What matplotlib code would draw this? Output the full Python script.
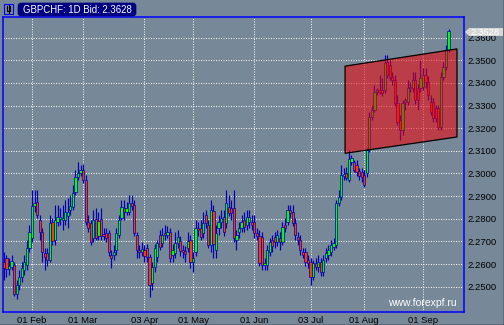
import numpy as np
import matplotlib
import matplotlib.pyplot as plt
from matplotlib.patches import FancyBboxPatch, Polygon, Rectangle
from matplotlib.lines import Line2D
from matplotlib.transforms import IdentityTransform

plt.rcParams['font.family'] = ['Liberation Sans', 'DejaVu Sans']

# daily GBPCHF bid candles, mid Jan .. mid Sep
opens = [
    2.2609, 2.2626, 2.2578, 2.2587, 2.2596, 2.2467, 2.2507, 2.2543, 2.2573, 2.2596,
    2.2671, 2.2715, 2.2856, 2.2874, 2.2794, 2.2741, 2.2648, 2.2648, 2.2618, 2.2785,
    2.2706, 2.2785, 2.2799, 2.2794, 2.2794, 2.2812, 2.2838, 2.2852, 2.2918, 2.2984,
    2.3002, 2.3015, 2.2971, 2.2785, 2.2781, 2.2715, 2.2799, 2.2724, 2.2799, 2.2732,
    2.2737, 2.2737, 2.2640, 2.2640, 2.2662, 2.2728, 2.2803, 2.2847, 2.2830, 2.2830,
    2.2869, 2.2861, 2.2728, 2.2662, 2.2653, 2.2662, 2.2671, 2.2631, 2.2516, 2.2587,
    2.2631, 2.2728, 2.2693, 2.2737, 2.2728, 2.2741, 2.2640, 2.2648, 2.2693, 2.2702,
    2.2662, 2.2657, 2.2671, 2.2706, 2.2609, 2.2653, 2.2759, 2.2759, 2.2737, 2.2816,
    2.2772, 2.2684, 2.2834, 2.2662, 2.2759, 2.2785, 2.2807, 2.2781, 2.2852, 2.2847,
    2.2847, 2.2706, 2.2741, 2.2759, 2.2794, 2.2772, 2.2785, 2.2785, 2.2785, 2.2737,
    2.2724, 2.2719, 2.2596, 2.2596, 2.2653, 2.2706, 2.2719, 2.2697, 2.2715, 2.2697,
    2.2772, 2.2785, 2.2838, 2.2830, 2.2781, 2.2719, 2.2706, 2.2653, 2.2653, 2.2618,
    2.2609, 2.2543, 2.2604, 2.2587, 2.2609, 2.2565, 2.2626, 2.2640, 2.2653, 2.2675,
    2.2684, 2.2869, 2.2896, 2.2989, 2.3002, 2.2971, 2.3050, 2.3050, 2.3037, 2.3011,
    2.3006, 2.2993, 2.3002, 2.3103, 2.3249, 2.3280, 2.3360, 2.3368, 2.3368, 2.3368,
    2.3492, 2.3479, 2.3426, 2.3413, 2.3311, 2.3236, 2.3192, 2.3315, 2.3315, 2.3377,
    2.3377, 2.3413, 2.3377, 2.3377, 2.3382, 2.3435, 2.3404, 2.3315, 2.3315, 2.3289,
    2.3289, 2.3205, 2.3426, 2.3470, 2.3545,
]
closes = [
    2.2582, 2.2578, 2.2591, 2.2613, 2.2467, 2.2507, 2.2543, 2.2582, 2.2609, 2.2671,
    2.2741, 2.2856, 2.2869, 2.2816, 2.2741, 2.2653, 2.2631, 2.2618, 2.2781, 2.2702,
    2.2794, 2.2807, 2.2807, 2.2803, 2.2830, 2.2830, 2.2856, 2.2913, 2.2984, 2.3002,
    2.3015, 2.2971, 2.2785, 2.2759, 2.2697, 2.2794, 2.2715, 2.2790, 2.2724, 2.2724,
    2.2715, 2.2653, 2.2626, 2.2653, 2.2737, 2.2794, 2.2852, 2.2830, 2.2847, 2.2869,
    2.2856, 2.2737, 2.2662, 2.2653, 2.2666, 2.2635, 2.2631, 2.2507, 2.2587, 2.2671,
    2.2693, 2.2675, 2.2728, 2.2728, 2.2741, 2.2626, 2.2662, 2.2693, 2.2719, 2.2657,
    2.2653, 2.2644, 2.2702, 2.2609, 2.2626, 2.2759, 2.2750, 2.2719, 2.2781, 2.2781,
    2.2684, 2.2838, 2.2688, 2.2737, 2.2785, 2.2803, 2.2741, 2.2869, 2.2825, 2.2825,
    2.2715, 2.2728, 2.2759, 2.2785, 2.2763, 2.2807, 2.2807, 2.2772, 2.2737, 2.2724,
    2.2604, 2.2596, 2.2604, 2.2662, 2.2697, 2.2679, 2.2697, 2.2728, 2.2697, 2.2763,
    2.2759, 2.2838, 2.2825, 2.2781, 2.2728, 2.2706, 2.2662, 2.2640, 2.2609, 2.2604,
    2.2543, 2.2604, 2.2587, 2.2609, 2.2565, 2.2618, 2.2648, 2.2662, 2.2684, 2.2693,
    2.2869, 2.2896, 2.2993, 2.2997, 2.2980, 2.3064, 2.3068, 2.3015, 2.3006, 2.2989,
    2.2984, 2.2949, 2.3103, 2.3249, 2.3280, 2.3360, 2.3368, 2.3360, 2.3355, 2.3488,
    2.3435, 2.3426, 2.3413, 2.3311, 2.3227, 2.3192, 2.3311, 2.3324, 2.3377, 2.3382,
    2.3413, 2.3324, 2.3324, 2.3421, 2.3435, 2.3404, 2.3346, 2.3271, 2.3245, 2.3245,
    2.3205, 2.3426, 2.3470, 2.3545, 2.3628,
]
highs = [
    2.2653, 2.2640, 2.2626, 2.2640, 2.2609, 2.2529, 2.2573, 2.2609, 2.2640, 2.2706,
    2.2772, 2.2927, 2.2927, 2.2927, 2.2816, 2.2759, 2.2671, 2.2671, 2.2816, 2.2803,
    2.2861, 2.2861, 2.2847, 2.2861, 2.2883, 2.2891, 2.2905, 2.2949, 2.3015, 2.3050,
    2.3037, 2.3042, 2.2993, 2.2816, 2.2794, 2.2838, 2.2847, 2.2830, 2.2847, 2.2759,
    2.2759, 2.2750, 2.2662, 2.2684, 2.2759, 2.2816, 2.2883, 2.2883, 2.2874, 2.2905,
    2.2905, 2.2883, 2.2741, 2.2684, 2.2697, 2.2684, 2.2688, 2.2644, 2.2609, 2.2688,
    2.2706, 2.2750, 2.2759, 2.2772, 2.2768, 2.2759, 2.2688, 2.2741, 2.2750, 2.2724,
    2.2684, 2.2679, 2.2741, 2.2728, 2.2653, 2.2794, 2.2785, 2.2794, 2.2830, 2.2838,
    2.2794, 2.2883, 2.2861, 2.2772, 2.2816, 2.2838, 2.2838, 2.2927, 2.2905, 2.2883,
    2.2927, 2.2750, 2.2785, 2.2816, 2.2830, 2.2838, 2.2838, 2.2816, 2.2816, 2.2759,
    2.2750, 2.2741, 2.2626, 2.2684, 2.2715, 2.2728, 2.2741, 2.2750, 2.2741, 2.2785,
    2.2803, 2.2861, 2.2861, 2.2861, 2.2803, 2.2741, 2.2728, 2.2671, 2.2671, 2.2640,
    2.2626, 2.2618, 2.2626, 2.2640, 2.2626, 2.2640, 2.2671, 2.2684, 2.2706, 2.2715,
    2.2883, 2.2927, 2.3037, 2.3024, 2.3028, 2.3103, 2.3081, 2.3059, 2.3059, 2.3024,
    2.3024, 2.3015, 2.3112, 2.3271, 2.3302, 2.3391, 2.3377, 2.3435, 2.3421, 2.3523,
    2.3523, 2.3501, 2.3448, 2.3435, 2.3346, 2.3258, 2.3324, 2.3333, 2.3413, 2.3404,
    2.3448, 2.3448, 2.3395, 2.3501, 2.3466, 2.3466, 2.3430, 2.3346, 2.3333, 2.3302,
    2.3302, 2.3448, 2.3492, 2.3567, 2.3638,
]
lows = [
    2.2529, 2.2543, 2.2551, 2.2573, 2.2459, 2.2445, 2.2485, 2.2520, 2.2551, 2.2573,
    2.2653, 2.2697, 2.2830, 2.2803, 2.2706, 2.2609, 2.2573, 2.2591, 2.2609, 2.2684,
    2.2684, 2.2768, 2.2772, 2.2750, 2.2772, 2.2759, 2.2816, 2.2838, 2.2905, 2.2971,
    2.2989, 2.2958, 2.2772, 2.2741, 2.2684, 2.2697, 2.2706, 2.2706, 2.2706, 2.2706,
    2.2697, 2.2635, 2.2582, 2.2618, 2.2640, 2.2715, 2.2794, 2.2794, 2.2816, 2.2816,
    2.2838, 2.2724, 2.2626, 2.2626, 2.2635, 2.2609, 2.2609, 2.2454, 2.2485, 2.2565,
    2.2609, 2.2662, 2.2675, 2.2706, 2.2715, 2.2609, 2.2609, 2.2626, 2.2671, 2.2635,
    2.2626, 2.2609, 2.2653, 2.2582, 2.2565, 2.2635, 2.2724, 2.2706, 2.2715, 2.2759,
    2.2671, 2.2653, 2.2626, 2.2626, 2.2728, 2.2759, 2.2724, 2.2759, 2.2812, 2.2794,
    2.2697, 2.2662, 2.2715, 2.2741, 2.2741, 2.2750, 2.2759, 2.2750, 2.2715, 2.2706,
    2.2591, 2.2573, 2.2573, 2.2573, 2.2635, 2.2653, 2.2671, 2.2679, 2.2662, 2.2684,
    2.2741, 2.2772, 2.2803, 2.2768, 2.2706, 2.2684, 2.2640, 2.2626, 2.2591, 2.2582,
    2.2507, 2.2529, 2.2573, 2.2565, 2.2547, 2.2547, 2.2609, 2.2618, 2.2635, 2.2662,
    2.2671, 2.2856, 2.2883, 2.2971, 2.2971, 2.2962, 2.3037, 2.3006, 2.2989, 2.2971,
    2.2962, 2.2940, 2.2984, 2.3095, 2.3236, 2.3271, 2.3346, 2.3351, 2.3342, 2.3355,
    2.3421, 2.3413, 2.3391, 2.3298, 2.3214, 2.3148, 2.3170, 2.3280, 2.3302, 2.3360,
    2.3360, 2.3307, 2.3280, 2.3360, 2.3368, 2.3377, 2.3324, 2.3258, 2.3227, 2.3227,
    2.3192, 2.3192, 2.3413, 2.3457, 2.3536,
]

# month start labels (bar index where the month starts)
month_bars = [11, 31, 55, 74, 98, 120, 141, 164]
month_labels = ['01 Feb', '01 Mar', '03 Apr', '01 May', '01 Jun', '03 Jul', '01 Aug', '01 Sep']

# drawn channel (start/end bar, top and bottom prices)
channel_bars = [133.5, 177.3]
channel_top = [2.3474, 2.3550]
channel_bottom = [2.3089, 2.3161]

symbol = 'GBPCHF'
last_bid = '2.3628'

W, H = 504, 325
bg = '#778899'
blue = '#0000b4'

fig = plt.figure(figsize=(W / 100, H / 100), dpi=100)
fig.patch.set_facecolor(bg)
ax = fig.add_axes([3 / W, 1 - 312 / H, 461 / W, 295 / H])
ax.set_facecolor(bg)

o = np.array(opens)
c = np.array(closes)
hi = np.array(highs)
lo = np.array(lows)
idx = np.arange(len(o))

# wicks then bodies
ax.vlines(idx, lo, hi, color=blue, lw=0.85, zorder=2)
body_col = np.where(c >= o, '#00ff00', '#ff3c00')
ax.bar(idx, np.abs(c - o), bottom=np.minimum(o, c), width=0.9,
       color=body_col, edgecolor=blue, linewidth=0.5, zorder=3)

# channel overlay
ax.fill([channel_bars[0], channel_bars[1], channel_bars[1], channel_bars[0]],
        [channel_top[0], channel_top[1], channel_bottom[1], channel_bottom[0]],
        facecolor=(0.95, 0, 0.02, 0.55), edgecolor='black', lw=0.9, zorder=4)

ax.set_xlim(-0.35, 180.04)
ax.set_ylim(2.2388, 2.3691)

yt = np.round(np.arange(2.25, 2.3601, 0.01), 2)
ax.set_yticks(yt)
ax.set_yticklabels(['%.4f' % v for v in yt])
ax.set_xticks(month_bars)
ax.set_xticklabels(month_labels)
ax.yaxis.tick_right()
ax.tick_params(axis='both', length=0, labelsize=6.8, colors='black')
ax.tick_params(axis='y', pad=2.7)
ax.tick_params(axis='x', pad=2.8)
ax.grid(True, color='#f2f2f2', linestyle=(0, (1, 1.4)), lw=0.75, zorder=1)
ax.set_axisbelow(True)
for s in ax.spines.values():
    s.set_color('#0000ff')
    s.set_linewidth(1.1)

px = IdentityTransform()

# title box
fig.add_artist(FancyBboxPatch((18, H - 16), 118, 13, boxstyle='round,pad=0,rounding_size=3',
                              transform=px, fc='#000080', ec='#000080', lw=0.5))
fig.text(23 / W, 1 - 9.8 / H, '%s: 1D Bid: %s' % (symbol, last_bid),
         color='white', fontsize=6.9, va='center', ha='left')

# little icon
fig.add_artist(Rectangle((4, H - 14), 9, 10, transform=px, fc='none', ec='#0000ff', lw=0.8))
fig.add_artist(Line2D([7, 7, 10, 10], [H - 6, H - 11, H - 11, H - 6], transform=px,
                      color='black', lw=0.8))
fig.add_artist(Line2D([8.5, 8.5], [H - 12.5, H - 5], transform=px, color='black', lw=0.8))

# last price marker, partly covering the 2.3600 label like the original
fig.add_artist(Polygon([(465, H - 32), (469, H - 28), (503, H - 28), (503, H - 36), (469, H - 36)],
                       closed=True, transform=px, fc='#d6d6d6', ec='none', zorder=5))
fig.text(470 / W, 1 - 32.3 / H, last_bid, color='white', fontsize=6.8, va='center', ha='left',
         zorder=6)

# watermark
fig.text(388 / W, 1 - 303.5 / H, 'www.forexpf.ru', color='white', fontsize=7.5,
         va='center', ha='left')

# outer frame
fig.add_artist(Line2D([503.5, 503.5], [0, H], transform=px, color='black', lw=1))
fig.add_artist(Line2D([0, W], [0.5, 0.5], transform=px, color='black', lw=1))

fig.savefig('out.png', dpi=100, facecolor=bg)
